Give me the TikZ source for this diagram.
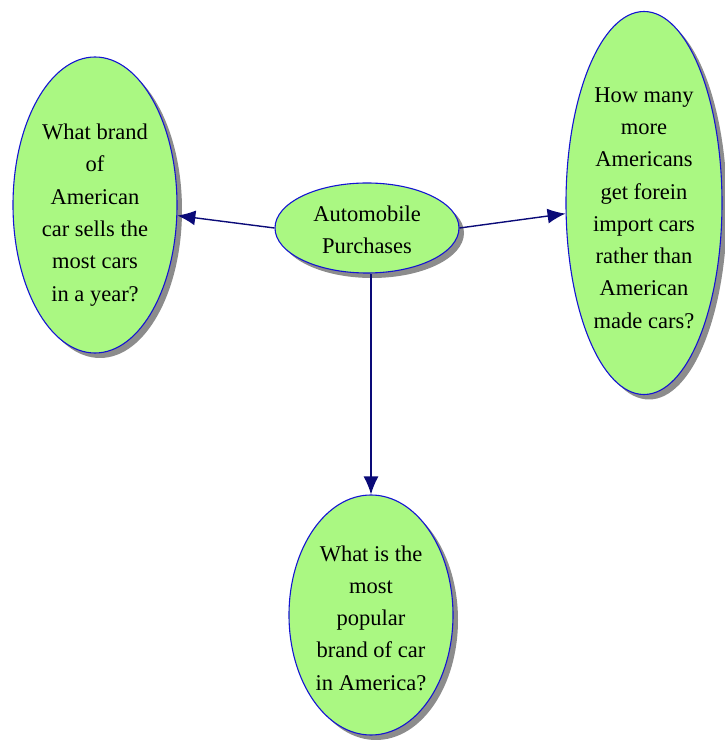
\documentclass[tikz,border=0pt]{standalone}
\usepackage{fontspec}
\setmainfont{Liberation Serif}
\usetikzlibrary{shapes.geometric,shadows,arrows.meta}
\definecolor{bubblefill}{RGB}{170,248,130}
\definecolor{bubbleline}{RGB}{20,20,210}
\definecolor{arrowcol}{RGB}{10,10,120}
\begin{document}
\begin{tikzpicture}[x=1pt,y=1pt,
  bubble/.style={ellipse, draw=bubbleline, line width=1.1pt, fill=bubblefill,
    inner sep=0pt,
    drop shadow={fill=black!45, opacity=1, shadow xshift=5pt, shadow yshift=-5pt}},
  bubbletext/.style={align=center, inner sep=0pt, font=\fontsize{22.5}{32.3}\selectfont},
  link/.style={draw=arrowcol, line width=1.4pt, -{Latex[length=18pt,width=15pt]}}]
\useasboundingbox (0,0) rectangle (725,740);
\node[bubble, minimum width=184pt, minimum height=90pt] (c) at (367,512) {};
\node[bubble, minimum width=164pt, minimum height=296pt] (l) at (95,535) {};
\node[bubble, minimum width=156pt, minimum height=383pt] (r) at (644,537) {};
\node[bubble, minimum width=164pt, minimum height=240pt] (b) at (371,125) {};
\node[bubbletext] (ct) at (367,510) {Automobile\\Purchases};
\node[bubbletext] (lt) at (95,525) {What brand\\of\\American\\car sells the\\most cars\\in a year?};
\node[bubbletext] (rt) at (644,532) {How many\\more\\Americans\\get forein\\import cars\\rather than\\American\\made cars?};
\node[bubbletext] (bt) at (371,122) {What is the\\most\\popular\\brand of car\\in America?};
\draw[link] (c.west) -- (l);
\draw[link] (c.east) -- (r);
\draw[link] (c.south -| b.north) -- (b.north);
\end{tikzpicture}
\end{document}
